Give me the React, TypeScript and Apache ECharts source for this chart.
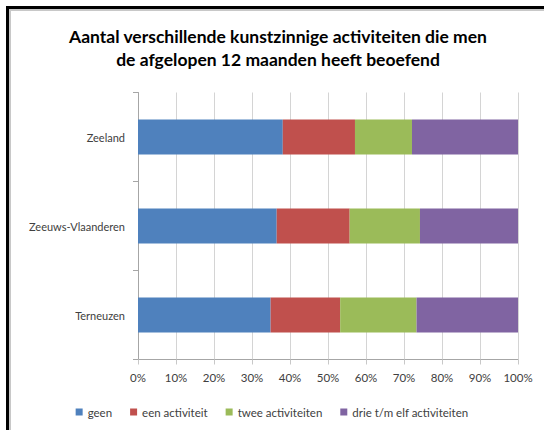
import React, { useEffect, useRef } from "react";
import * as echarts from "echarts";

const categories = ["Terneuzen", "Zeeuws-Vlaanderen", "Zeeland"];
const seriesNames = ["geen", "een activiteit", "twee activiteiten", "drie t/m elf activiteiten"];
const geen = [34.9, 36.5, 38.1];
const eenActiviteit = [18.3, 19.2, 19.0];
const tweeActiviteiten = [20.1, 18.5, 15.0];
const drieTotElf = [26.7, 25.8, 27.9];
const colors = ["#4F81BD", "#C0504D", "#9BBB59", "#8064A2"];
const titleText = "Aantal verschillende kunstzinnige activiteiten die men\nde afgelopen 12 maanden heeft beoefend";

const FONT = "Lato, 'Open Sans', sans-serif";

export default function App() {
  const ref = useRef<HTMLDivElement>(null);
  useEffect(() => {
    if (!ref.current) return;
    const chart = echarts.init(ref.current, null, { renderer: "svg" });
    const values = [geen, eenActiviteit, tweeActiviteiten, drieTotElf];
    chart.setOption({
      animation: false,
      backgroundColor: "#ffffff",
      textStyle: { fontFamily: FONT },
      grid: { left: 138, right: 26, top: 92.5, bottom: 70.5, containLabel: false },
      xAxis: {
        type: "value",
        min: 0,
        max: 100,
        interval: 10,
        axisLabel: { formatter: "{value}%", color: "#404040", fontSize: 11.5, margin: 12, fontFamily: FONT },
        axisLine: { show: true, lineStyle: { color: "#A6A6A6", width: 1 } },
        axisTick: { show: true, length: 5, lineStyle: { color: "#C8C8C8", width: 1 } },
        splitLine: { show: true, lineStyle: { color: "#D4D4D4", width: 1 } },
      },
      yAxis: {
        type: "category",
        data: categories,
        axisLabel: { color: "#404040", fontSize: 11, margin: 13, fontFamily: FONT },
        axisLine: { show: true, lineStyle: { color: "#A6A6A6", width: 1 } },
        axisTick: { show: true, length: 5, lineStyle: { color: "#A6A6A6", width: 1 } },
        splitLine: { show: false },
      },
      legend: {
        data: seriesNames,
        left: "center",
        top: 401,
        icon: "rect",
        itemWidth: 7,
        itemHeight: 7,
        itemGap: 18,
        textStyle: { color: "#404040", fontSize: 11.5, fontFamily: FONT },
      },
      series: seriesNames.map((name, i) => ({
        name,
        type: "bar",
        stack: "total",
        data: values[i],
        barWidth: 35,
        itemStyle: { color: colors[i] },
      })),
      graphic: [
        { type: "rect", shape: { x: 9, y: 9, width: 2, height: 421 }, style: { fill: "#C8C8C8" }, silent: true },
        { type: "rect", shape: { x: 9, y: 9, width: 535, height: 2 }, style: { fill: "#C8C8C8" }, silent: true },
        { type: "rect", shape: { x: 6, y: 6, width: 3, height: 424 }, style: { fill: "#000000" }, silent: true },
        { type: "rect", shape: { x: 6, y: 6, width: 538, height: 3 }, style: { fill: "#000000" }, silent: true },
        {
          type: "text",
          x: 278,
          y: 25,
          silent: true,
          style: {
            text: titleText,
            fill: "#000000",
            fontSize: 17.5,
            fontWeight: "bold",
            fontFamily: FONT,
            align: "center",
            verticalAlign: "top",
            lineHeight: 23,
          },
        },
      ],
    });
    return () => chart.dispose();
  }, []);
  return (
    <div
      ref={ref}
      style={{ position: "absolute", left: 0, top: 0, width: 544, height: 430 }}
    />
  );
}
